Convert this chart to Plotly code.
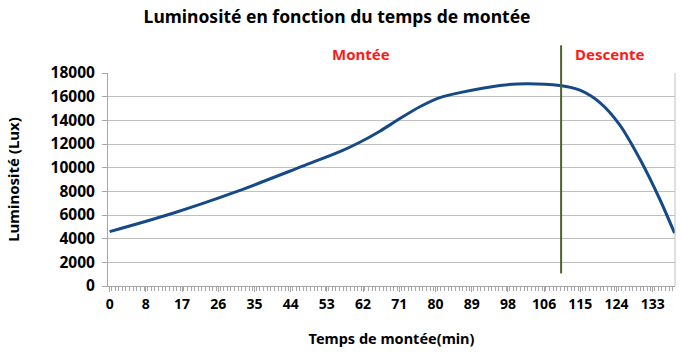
import plotly.graph_objects as go

# Data (time in minutes, luminosity in lux)
time_min = [0, 15.1, 31.4, 47.8, 56.4, 61.3, 66.2, 71.1, 76.0, 80.9, 85.8, 95.6,
            102.1, 110.3, 115.2, 120.1, 125.0, 129.9, 134.8, 138.4]
lux = [4600, 6110, 8020, 10200, 11350, 12150, 13080, 14150, 15150, 15920, 16340, 16950,
       17100, 16940, 16550, 15500, 13600, 10730, 7310, 4460]

tick_labels = ["0", "8", "17", "26", "35", "44", "53", "62", "71", "80", "89",
               "98", "106", "115", "124", "133"]
label_step = 8.87          # minutes between two labelled categories
split_time = 110.6         # end of the ascent (vertical separator)
y_ticks = list(range(0, 18001, 2000))

FONT = "Comic Sans MS, Noto Sans, sans-serif"

fig = go.Figure()
fig.add_trace(go.Scatter(
    x=time_min, y=lux, mode="lines",
    line=dict(color="#164A86", width=3, shape="spline", smoothing=0.9),
    hoverinfo="x+y", showlegend=False,
))

tickvals = [i * label_step for i in range(len(tick_labels))]

fig.update_layout(
    width=681, height=354,
    margin=dict(l=108, r=6, t=73, b=68),
    paper_bgcolor="white", plot_bgcolor="white",
    font=dict(family=FONT, color="black"),
    title=dict(text="<b>Luminosité en fonction du temps de montée</b>",
               x=0.495, xanchor="center", y=0.952, yanchor="middle",
               font=dict(size=17.5, family=FONT, color="black")),
    xaxis=dict(
        range=[-0.4, 138.5], tickvals=tickvals, ticktext=[f"<b>{t}</b>" for t in tick_labels],
        ticks="outside", ticklen=5, tickcolor="#A6A6A6", tickfont=dict(size=14),
        showline=True, linecolor="#A6A6A6", linewidth=1, mirror=False,
        showgrid=False, zeroline=False,
        minor=dict(ticks="outside", ticklen=4, tickcolor="#A6A6A6",
                   dtick=label_step / 10, tick0=-label_step / 20, showgrid=False),
        title=dict(text="<b>Temps de montée(min)</b>", font=dict(size=14.5), standoff=22),
    ),
    yaxis=dict(
        range=[0, 18000], tickvals=y_ticks, ticktext=[f"<b>{v}</b>" for v in y_ticks],
        ticks="outside", ticklen=5, tickcolor="#A6A6A6", tickfont=dict(size=15.5),
        ticklabelstandoff=4,
        showline=True, linecolor="#A6A6A6", linewidth=1,
        showgrid=True, gridcolor="#BFBFBF", gridwidth=1, zeroline=False,
        title=dict(text="<b>Luminosité (Lux)</b>", font=dict(size=15), standoff=27),
    ),
    shapes=[
        # right border of plot area
        dict(type="line", xref="paper", yref="paper", x0=1, x1=1, y0=0, y1=1,
             line=dict(color="#BFBFBF", width=1)),
        # separator between ascent and descent
        dict(type="line", xref="x", yref="paper", x0=split_time, x1=split_time,
             y0=0.059, y1=1.13, line=dict(color="#4F6228", width=2)),
    ],
    annotations=[
        dict(text="<b>Montée</b>", xref="paper", yref="paper", x=0.447, y=1.087,
             xanchor="center", yanchor="middle",
             showarrow=False, font=dict(size=15, color="#FF1A1A", family=FONT)),
        dict(text="<b>Descente</b>", xref="paper", yref="paper", x=0.885, y=1.087,
             xanchor="center", yanchor="middle",
             showarrow=False, font=dict(size=15, color="#FF1A1A", family=FONT)),
    ],
)

fig.write_html("out.html")
